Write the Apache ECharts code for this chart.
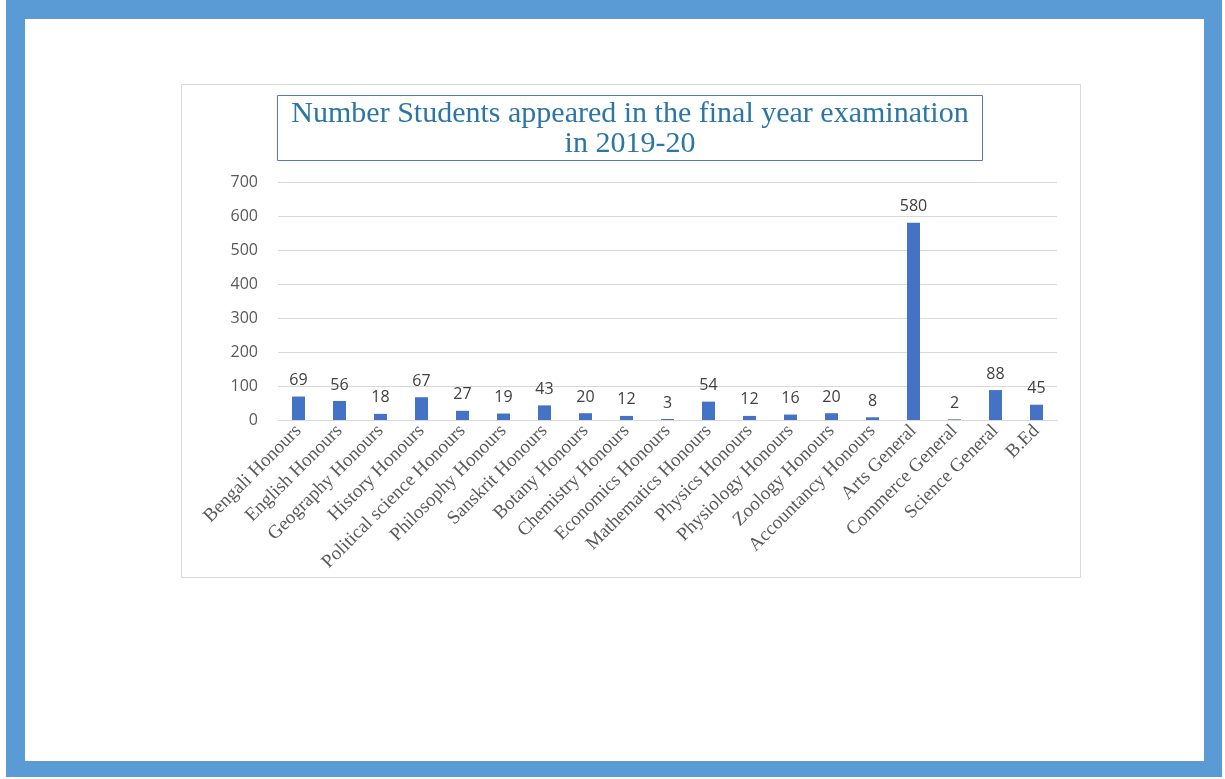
<!DOCTYPE html>
<html>
<head>
<meta charset="utf-8">
<script src="https://cdn.jsdelivr.net/npm/echarts@6/dist/echarts.min.js"></script>
<style>
html,body{margin:0;padding:0;background:#fff;}
#chart{width:1225px;height:779px;}
</style>
</head>
<body>
<div id="chart"></div>
<script>
const categories = ["Bengali Honours","English Honours","Geography Honours","History Honours","Political science Honours","Philosophy Honours","Sanskrit Honours","Botany Honours","Chemistry Honours","Economics Honours","Mathematics Honours","Physics Honours","Physiology Honours","Zoology Honours","Accountancy Honours","Arts General","Commerce General","Science General","B.Ed"];
const students = [69,56,18,67,27,19,43,20,12,3,54,12,16,20,8,580,2,88,45];
const yTicks = [0,100,200,300,400,500,600,700];
const titleText = "Number Students appeared in the final year examination\nin 2019-20";

const chart = echarts.init(document.getElementById('chart'), null, {renderer:'canvas'});
chart.setOption({
  backgroundColor:'#fff',
  animation:false,
  graphic:[
    {type:'rect', z:-10, shape:{x:6,y:0,width:1216,height:777}, style:{fill:'#5B9BD5'}},
    {type:'rect', z:-9, shape:{x:25,y:19,width:1179,height:742}, style:{fill:'#ffffff'}},
    {type:'rect', z:-8, shape:{x:181.5,y:84.5,width:899,height:493}, style:{fill:'#fff', stroke:'#d9d9d9', lineWidth:1}}
  ],
  title:{
    text:titleText,
    left:616, top:95, textAlign:'center',
    padding:[4,14,2,14],
    borderColor:'#5878AE', borderWidth:1,
    textStyle:{fontFamily:'Liberation Serif', fontSize:30, fontWeight:'normal', color:'#2B76A6', lineHeight:30}
  },
  grid:{left:278, right:168, top:182, bottom:359, containLabel:false},
  xAxis:{
    type:'category', data:categories,
    axisLine:{lineStyle:{color:'#d9d9d9'}},
    axisTick:{show:false},
    axisLabel:{rotate:45, interval:0, margin:8, fontFamily:'Liberation Serif', fontSize:19, color:'#595959'}
  },
  yAxis:{
    type:'value', min:yTicks[0], max:yTicks[yTicks.length-1], interval:100,
    axisLine:{show:false}, axisTick:{show:false},
    splitLine:{lineStyle:{color:'#d9d9d9'}},
    axisLabel:{margin:20, fontFamily:'Open Sans', fontSize:16, color:'#595959'}
  },
  series:[{
    type:'bar', data:students, barWidth:13,
    itemStyle:{color:'#4472C4'},
    label:{show:true, position:'top', distance:8, fontFamily:'Open Sans', fontSize:16, color:'#404040'}
  }]
});
</script>
</body>
</html>
